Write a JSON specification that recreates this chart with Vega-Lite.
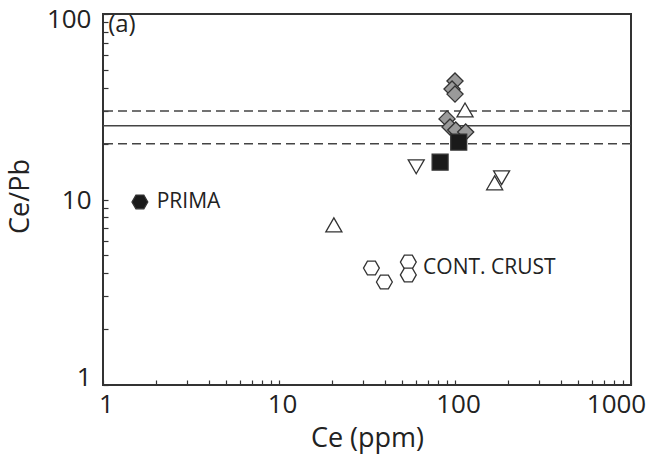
{
  "$schema": "https://vega.github.io/schema/vega-lite/v6.json",
  "width": 528,
  "height": 371,
  "autosize": "none",
  "padding": {"left": 103, "top": 14, "right": 15, "bottom": 69},
  "background": "white",
  "config": {
    "font": "Open Sans",
    "view": {"stroke": "#333333", "strokeWidth": 2}
  },
  "datasets": {
    "refs": [
      {"cepb": 30, "style": "dashed"},
      {"cepb": 25, "style": "solid"},
      {"cepb": 20, "style": "dashed"}
    ],
    "points": [
      {"ce": 1.62, "cepb": 9.7, "type": "hex-filled"},
      {"ce": 20.5, "cepb": 7.3, "type": "tri-up"},
      {"ce": 33.5, "cepb": 4.27, "type": "hex-open"},
      {"ce": 39.7, "cepb": 3.59, "type": "hex-open"},
      {"ce": 54.3, "cepb": 4.6, "type": "hex-open"},
      {"ce": 54.3, "cepb": 3.92, "type": "hex-open"},
      {"ce": 60.2, "cepb": 15.0, "type": "tri-down"},
      {"ce": 168, "cepb": 12.3, "type": "tri-up"},
      {"ce": 184, "cepb": 13.1, "type": "tri-down"},
      {"ce": 114, "cepb": 30.4, "type": "tri-up"},
      {"ce": 100, "cepb": 43.5, "type": "diamond"},
      {"ce": 96.2, "cepb": 39.4, "type": "diamond"},
      {"ce": 100, "cepb": 37.0, "type": "diamond"},
      {"ce": 90.1, "cepb": 27.2, "type": "diamond"},
      {"ce": 93.7, "cepb": 24.6, "type": "diamond"},
      {"ce": 101, "cepb": 23.7, "type": "diamond"},
      {"ce": 115, "cepb": 23.1, "type": "diamond"},
      {"ce": 105, "cepb": 20.4, "type": "square"},
      {"ce": 82.3, "cepb": 15.9, "type": "square"}
    ],
    "labels": [
      {"ce": 2.02, "cepb": 9.7, "text": "PRIMA", "size": 21, "baseline": "middle"},
      {"ce": 65.9, "cepb": 4.27, "text": "CONT. CRUST", "size": 21, "baseline": "middle"},
      {"ce": 1.07, "cepb": 87, "text": "(a)", "size": 24, "baseline": "top"}
    ]
  },
  "layer": [
    {
      "data": {"name": "refs"},
      "mark": {"type": "rule", "color": "#444444", "strokeWidth": 1.5},
      "encoding": {
        "y": {
          "field": "cepb", "type": "quantitative",
          "scale": {"type": "log", "domain": [1, 100], "nice": false},
          "axis": {
            "title": "Ce/Pb",
            "titleFontSize": 27, "titleFontWeight": "normal", "titleColor": "#222222", "titlePadding": 12,
            "titleY": 182,
            "offset": -5,
            "values": [1,2,3,4,5,6,7,8,9,10,20,30,40,50,60,70,80,90,100],
            "labelExpr": "(datum.value == 1 || datum.value == 10 || datum.value == 100) ? '' + datum.value : ''",
            "labelFontSize": 26, "labelColor": "#222222", "labelOverlap": false,
            "labelPadding": 12,
            "labelOffset": {"condition": [{"test": "datum.value == 1", "value": -8}, {"test": "datum.value == 100", "value": 5}], "value": 1},
            "ticks": true, "tickSize": 5, "tickColor": "#333333", "tickWidth": 1.2,
            "domain": false, "grid": false
          }
        },
        "strokeDash": {"field": "style", "type": "nominal", "scale": {"domain": ["solid", "dashed"], "range": [[1, 0], [9, 5]]}, "legend": null}
      }
    },
    {
      "data": {"name": "points"},
      "mark": {"type": "point", "filled": false, "opacity": 1, "stroke": "#333333", "strokeWidth": 1.3},
      "encoding": {
        "x": {
          "field": "ce", "type": "quantitative",
          "scale": {"type": "log", "domain": [1, 1000], "nice": false},
          "axis": {
            "title": "Ce (ppm)",
            "titleFontSize": 27, "titleFontWeight": "normal", "titleColor": "#222222", "titlePadding": 8,
            "offset": -5,
            "values": [1,2,3,4,5,6,7,8,9,10,20,30,40,50,60,70,80,90,100,200,300,400,500,600,700,800,900,1000],
            "labelExpr": "(datum.value == 1 || datum.value == 10 || datum.value == 100 || datum.value == 1000) ? '' + datum.value : ''",
            "labelFontSize": 26, "labelColor": "#222222", "labelOverlap": false, "labelFlush": false,
            "labelPadding": 6,
            "labelOffset": {"condition": {"test": "datum.value == 1000", "value": -15}, "value": 3},
            "ticks": true, "tickSize": 5, "tickColor": "#333333", "tickWidth": 1.2,
            "domain": false, "grid": false
          }
        },
        "y": {
          "field": "cepb", "type": "quantitative",
          "scale": {"type": "log", "domain": [1, 100], "nice": false}
        },
        "shape": {
          "field": "type", "type": "nominal", "legend": null,
          "scale": {
            "domain": ["diamond", "tri-up", "tri-down", "square", "hex-open", "hex-filled"],
            "range": ["diamond", "triangle-up", "triangle-down", "square", "M-1,0L-0.5,-0.866L0.5,-0.866L1,0L0.5,0.866L-0.5,0.866Z", "M-1,0L-0.5,-0.866L0.5,-0.866L1,0L0.5,0.866L-0.5,0.866Z"]
          }
        },
        "fill": {
          "field": "type", "type": "nominal", "legend": null,
          "scale": {
            "domain": ["diamond", "tri-up", "tri-down", "square", "hex-open", "hex-filled"],
            "range": ["#9a9a9a", "#ffffff", "#ffffff", "#1a1a1a", "#ffffff", "#1a1a1a"]
          }
        },
        "size": {
          "field": "type", "type": "nominal", "legend": null,
          "scale": {
            "domain": ["diamond", "tri-up", "tri-down", "square", "hex-open", "hex-filled"],
            "range": [260, 250, 200, 300, 270, 270]
          }
        }
      }
    },
    {
      "data": {"name": "labels"},
      "mark": {"type": "text", "align": "left", "color": "#222222"},
      "encoding": {
        "x": {"field": "ce", "type": "quantitative", "scale": {"type": "log", "domain": [1, 1000], "nice": false}},
        "y": {"field": "cepb", "type": "quantitative", "scale": {"type": "log", "domain": [1, 100], "nice": false}},
        "text": {"field": "text"},
        "size": {"field": "size", "type": "quantitative", "scale": null},
        "baseline": {"field": "baseline"}
      }
    }
  ]
}
